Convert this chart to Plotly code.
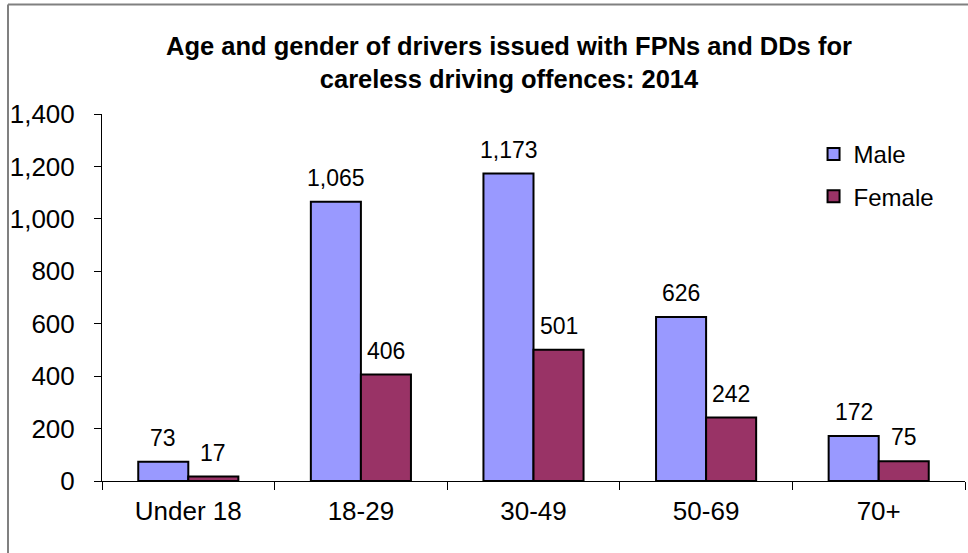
import plotly.graph_objects as go

# chart data
age_groups = ["Under 18", "18-29", "30-49", "50-69", "70+"]
male = [73, 1065, 1173, 626, 172]
female = [17, 406, 501, 242, 75]
y_ticks = [0, 200, 400, 600, 800, 1000, 1200, 1400]

male_col = "#9999FF"
female_col = "#993366"
font = "Liberation Sans, Arial, sans-serif"

fig = go.Figure()
fig.add_trace(go.Bar(x=age_groups, y=male, name="Male", legendgroup="m",
                     marker=dict(color=male_col, line=dict(color="black", width=2))))
fig.add_trace(go.Bar(x=age_groups, y=female, name="Female", legendgroup="f",
                     marker=dict(color=female_col, line=dict(color="black", width=2))))

# value labels above bars
for vals, shift in [(male, -25), (female, 25)]:
    for cat, v in zip(age_groups, vals):
        fig.add_annotation(x=cat, y=v, text=f"{v:,}", showarrow=False,
                           xshift=shift, yshift=9, yanchor="bottom",
                           font=dict(size=23, color="black", family=font))

# outer chart border (cut off at right / bottom like the source image)
bx = (8 - 102) / 863
by = 1 + (114 - 4.5) / 367
fig.add_shape(type="line", xref="paper", yref="paper", x0=bx, x1=bx, y0=-1, y1=by,
              line=dict(color="#808080", width=2))
fig.add_shape(type="line", xref="paper", yref="paper", x0=bx, x1=1.2, y0=by, y1=by,
              line=dict(color="#808080", width=2))

fig.update_layout(
    width=968, height=553,
    margin=dict(l=102, r=3, t=114, b=72),
    paper_bgcolor="white", plot_bgcolor="white",
    barmode="group", bargap=0.42, bargroupgap=0,
    font=dict(family=font, color="black"),
    title=dict(text="<b>Age and gender of drivers issued with FPNs and DDs for<br>careless driving offences: 2014</b>",
               x=(509 - 102) / 863, xref="paper", xanchor="center",
               y=1 - 55 / 553, yref="container", yanchor="top",
               font=dict(size=25.5, family=font, color="black")),
    legend=dict(x=0.8245, y=0.951, xanchor="left", yanchor="top",
                font=dict(size=24, family=font), traceorder="grouped",
                tracegroupgap=8, bgcolor="rgba(0,0,0,0)"),
    showlegend=True,
)
fig.update_xaxes(showline=True, linecolor="black", linewidth=1, ticks="outside",
                 tickson="boundaries", ticklen=8, tickcolor="black",
                 tickfont=dict(size=26), showgrid=False, ticklabelstandoff=7)
fig.update_yaxes(range=[0, 1400], tickvals=y_ticks, tickformat=",", showline=True,
                 linecolor="black", linewidth=1, ticks="outside", ticklen=7,
                 tickcolor="black", tickfont=dict(size=26), showgrid=False,
                 zeroline=False, ticklabelstandoff=14)

# drop the default page margin so the figure sits at the window's top-left corner
fig.write_html("out.html", config={"displayModeBar": False},
               post_script="document.body.style.margin='0';")
